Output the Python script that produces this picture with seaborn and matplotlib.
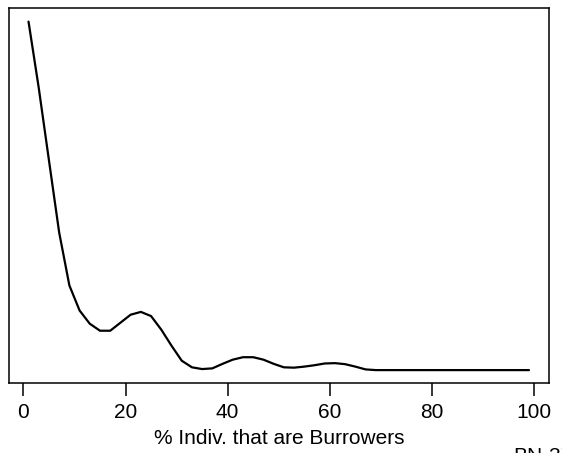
import matplotlib
matplotlib.use("Agg")
import seaborn as sns
import numpy as np
import pandas as pd
from matplotlib import pyplot as plt

# % of individuals that are burrowers (sampled every 2 units)
pct_burrowers = list(range(1, 100, 2))
# smoothed frequency, arbitrary units (the y axis has no labels)
frequency = [
    100, 81.0, 60.2, 39.5, 24.3, 17.1, 13.3, 11.3, 11.3, 13.6,
    15.9, 16.7, 15.5, 11.6, 7.0, 2.7, 0.8, 0.3, 0.5, 1.8,
    3.0, 3.7, 3.7, 3.0, 1.8, 0.8, 0.7, 1.0, 1.4, 1.9,
    2.0, 1.7, 1.0, 0.2, 0.0, 0.0, 0.0, 0.0, 0.0, 0.0,
    0.0, 0.0, 0.0, 0.0, 0.0, 0.0, 0.0, 0.0, 0.0, 0.0,
]
x_ticks = [0, 20, 40, 60, 80, 100]
x_label = "% Indiv. that are Burrowers"
corner_note = "BN-37"

sns.set_style("white")
plt.rcParams["font.family"] = ["Liberation Sans", "DejaVu Sans"]
plt.rcParams["text.color"] = "black"
plt.rcParams["axes.labelcolor"] = "black"
plt.rcParams["xtick.color"] = "black"

df = pd.DataFrame({"pct": pct_burrowers, "freq": frequency})

W, H = 562, 453
fig = plt.figure(figsize=(W / 100, H / 100), dpi=100)
ax = fig.add_axes([8.5 / W, (H - 383) / H, (549 - 8.5) / W, (383 - 8) / H])

sns.lineplot(data=df, x="pct", y="freq", color="black", linewidth=1.6, ax=ax)

ax.set_xlim(-2.92, 102.92)
ax.set_ylim(-3.7, 103.9)
ax.set_xticks(x_ticks)
ax.set_xticklabels([str(t) for t in x_ticks])
ax.set_yticks([])
ax.set_ylabel("")
ax.set_xlabel(x_label, fontsize=15, labelpad=5)
ax.tick_params(axis="x", direction="out", length=9.5, width=1.1, pad=5,
               labelsize=15, color="black", labelcolor="black", bottom=True)
for sp in ax.spines.values():
    sp.set_visible(True)
    sp.set_color("black")
    sp.set_linewidth(1.1)

# the corner note sits partly below the bottom edge, as in the original
fig.text(513 / W, 1 - 447 / H, corner_note, fontsize=15, va="top", ha="left")

fig.savefig("out.png", dpi=100)
plt.close()
